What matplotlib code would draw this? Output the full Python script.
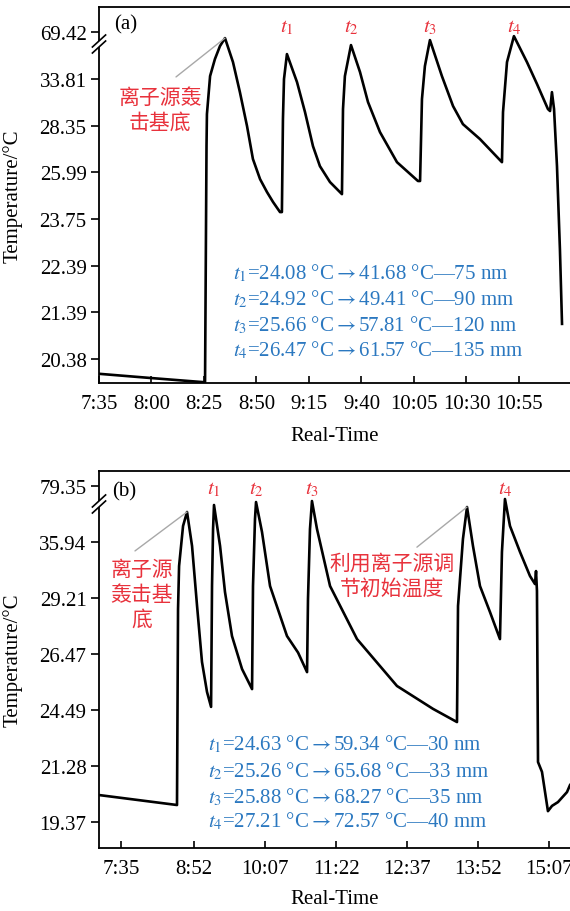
import numpy as np
import matplotlib
matplotlib.use("Agg")
import matplotlib.pyplot as plt
from matplotlib.transforms import blended_transform_factory

plt.rcParams['font.family'] = ['Liberation Serif', 'Noto Sans CJK SC', 'DejaVu Serif']
plt.rcParams['mathtext.fontset'] = 'stix'

# ---------------- data: panel (a) ----------------
a_yticks = [20.38, 21.39, 22.39, 23.75, 25.99, 28.35, 33.81, 69.42]
a_xlabels = ['7:35', '8:00', '8:25', '8:50', '9:15', '9:40', '10:05', '10:30', '10:55']
# time in minutes since midnight
a_time = [455.0, 479.3, 504.5, 505.5, 506.2, 506.4, 507.9, 510.2, 512.6, 515.0,
          518.8, 522.1, 525.5, 528.3, 531.7, 535.0, 537.9, 541.2,
          542.1, 542.6, 543.1, 544.5,
          549.3, 553.1, 556.9, 560.2, 565.0, 570.7,
          571.2, 572.1, 575.0,
          579.3, 583.1, 588.8, 596.9, 606.9,
          607.9, 608.8, 610.2, 612.6,
          618.3, 623.6, 628.3, 636.4, 646.9,
          647.4, 649.3, 652.6,
          658.8, 663.6, 668.8, 669.8, 670.7, 671.7,
          673.1, 674.5, 675.5]
a_temp = [20.06, 19.97, 19.88, 19.88, 27.31, 29.69, 35.95, 48.91, 58.81, 64.93,
          46.63, 32.26, 28.32, 26.66, 25.66, 25.04, 24.56, 24.08,
          24.08, 29.11, 33.79, 52.72,
          33.43, 29.93, 27.31, 26.30, 25.52, 24.94,
          30.28, 35.95, 59.59,
          39.01, 31.10, 28.02, 26.50, 25.57,
          25.57, 31.45, 43.57, 63.40,
          35.95, 30.63, 28.52, 27.67, 26.50,
          29.93, 46.63, 66.43,
          46.63, 33.20, 30.28, 30.05, 32.26, 30.28,
          26.30, 22.87, 21.14]
a_peaks = [544.5, 575.0, 612.6, 652.6]
a_info = [r"$t_1$=24.08 °C$\rightarrow$41.68 °C—75 nm",
          r"$t_2$=24.92 °C$\rightarrow$49.41 °C—90 mm",
          r"$t_3$=25.66 °C$\rightarrow$57.81 °C—120 nm",
          r"$t_4$=26.47 °C$\rightarrow$61.57 °C—135 mm"]
a_note = "离子源轰\n击基底"
a_note_peak = (515.0, 64.93)

# ---------------- data: panel (b) ----------------
b_yticks = [19.37, 21.28, 24.49, 26.47, 29.21, 35.94, 79.35]
b_xlabels = ['7:35', '8:52', '10:07', '11:22', '12:37', '13:52', '15:07']
b_time = [431.6, 514.0, 515.1, 516.2, 520.4, 524.6,
          529.9, 535.2, 540.4, 545.7, 550.0,
          551.0, 552.1, 553.1,
          559.5, 564.7, 572.1, 582.7, 593.3,
          594.3, 596.4, 597.5,
          603.8, 612.3, 630.2, 641.9, 651.4,
          652.4, 654.5, 656.6,
          661.9, 675.7, 704.2, 746.4, 784.5, 809.8,
          810.9, 816.1, 820.4,
          826.7, 834.1, 844.7, 855.2,
          857.3, 860.5,
          865.8, 876.4, 886.9, 892.2, 893.3, 894.3,
          895.4, 899.6, 905.9, 910.2, 916.5, 926.0, 929.2]
b_temp = [20.29, 19.95, 28.67, 33.05, 48.36, 59.21,
          35.46, 28.82, 26.19, 25.13, 24.60,
          30.65, 46.01, 64.63,
          35.46, 29.93, 27.35, 25.94, 25.23,
          30.65, 53.78, 66.93,
          43.71, 30.65, 27.35, 26.54, 25.83,
          29.16, 46.01, 67.71,
          46.01, 30.65, 27.20, 25.34, 24.53, 23.80,
          28.82, 38.28, 63.07,
          35.46, 30.65, 28.52, 27.20,
          34.74, 69.27,
          48.36, 34.74, 31.86, 30.89, 32.45, 30.05,
          21.51, 21.08, 19.74, 19.92, 20.05, 20.39, 20.63]
b_peaks = [553.1, 597.5, 656.6, 860.5]
b_info = [r"$t_1$=24.63 °C$\rightarrow$59.34 °C—30 nm",
          r"$t_2$=25.26 °C$\rightarrow$65.68 °C—33 mm",
          r"$t_3$=25.88 °C$\rightarrow$68.27 °C—35 nm",
          r"$t_4$=27.21 °C$\rightarrow$72.57 °C—40 mm"]
b_note1 = "离子源\n轰击基\n底"
b_note1_peak = (524.6, 59.21)
b_note2 = "利用离子源调\n节初始温度"
b_note2_peak = (820.4, 63.07)

RED = '#e8323c'
BLUE = '#2b78c0'
GREY = '#a8a8a8'


def make_scale(vals):
    vals = np.asarray(vals, float)
    idx = np.arange(len(vals), dtype=float)

    def fwd(v):
        v = np.asarray(v, float)
        out = np.interp(v, vals, idx)
        out = np.where(v < vals[0], (v - vals[0]) / (vals[1] - vals[0]), out)
        out = np.where(v > vals[-1], idx[-1] + (v - vals[-1]) / (vals[-1] - vals[-2]), out)
        return out

    def inv(k):
        k = np.asarray(k, float)
        out = np.interp(k, idx, vals)
        out = np.where(k < 0, vals[0] + k * (vals[1] - vals[0]), out)
        out = np.where(k > idx[-1], vals[-1] + (k - idx[-1]) * (vals[-1] - vals[-2]), out)
        return out
    return fwd, inv


def to_min(s):
    h, m = s.split(':')
    return int(h) * 60 + int(m)


def setup(ax, yticks, xlabels, xlim, klim, brk_y):
    fwd, inv = make_scale(yticks)
    ax.set_yscale('function', functions=(fwd, inv))
    ax.set_ylim(float(inv(klim[0])), float(inv(klim[1])))
    ax.set_yticks(yticks)
    ax.set_yticklabels([f"{v:.2f}" for v in yticks])
    ax.yaxis.set_minor_locator(matplotlib.ticker.NullLocator())
    ax.set_xlim(*xlim)
    ax.set_xticks([to_min(s) for s in xlabels])
    ax.set_xticklabels(xlabels)
    ax.tick_params(axis='x', direction='in', length=5, width=1.2, labelsize=15, pad=8)
    ax.tick_params(axis='y', direction='out', length=6, width=1.2, labelsize=15, pad=3)
    ax.spines['right'].set_visible(False)
    for s in ['left', 'bottom', 'top']:
        ax.spines[s].set_linewidth(1.3)
    ax.set_xlabel('Real-Time', fontsize=15)
    ax.set_ylabel('Temperature/°C', fontsize=15)
    ax.yaxis.set_label_coords(-0.163, 0.5)
    # axis break marks
    ax.add_patch(plt.Rectangle((-0.01, brk_y - 0.008), 0.02, 0.016, transform=ax.transAxes,
                               facecolor='white', edgecolor='none', clip_on=False, zorder=5))
    for dy in (-0.008, 0.008):
        ax.plot([-0.014, 0.014], [brk_y + dy - 0.016, brk_y + dy + 0.016], transform=ax.transAxes,
                color='black', lw=1.2, clip_on=False, zorder=6)


fig = plt.figure(figsize=(5.7, 9.12), dpi=100)
axa = fig.add_axes([99 / 570, 1 - 384 / 912, 471 / 570, 376 / 912])
axb = fig.add_axes([99 / 570, 1 - 849 / 912, 471 / 570, 377 / 912])

# ---- panel (a)
setup(axa, a_yticks, a_xlabels, (455.0, 679.3), (-0.514, 7.54), 0.9016)
axa.plot(a_time, a_temp, color='black', lw=1.9, solid_joinstyle='round')
axa.xaxis.set_label_coords(0.5, -0.115)
axa.text(0.056, 0.955, '(a)', transform=axa.transAxes, ha='center', va='center', fontsize=15)
tra = blended_transform_factory(axa.transData, axa.transAxes)
for i, px in enumerate(a_peaks):
    axa.text(px, 0.947, f"$t_{i+1}$", transform=tra, color=RED, ha='center', va='center', fontsize=15)
axa.annotate('', xy=a_note_peak, xycoords='data', xytext=(0.1635, 0.814), textcoords='axes fraction',
             arrowprops=dict(arrowstyle='-', color=GREY, lw=1.0, shrinkA=0, shrinkB=0))
axa.text(0.1295, 0.727, a_note, transform=axa.transAxes, ha='center', va='center', color=RED,
         fontsize=15, family=['Noto Sans CJK SC'], linespacing=1.15)
for txt, y in zip(a_info, [0.295, 0.224, 0.157, 0.090]):
    axa.text(0.2845, y, txt, transform=axa.transAxes, ha='left', va='center', color=BLUE, fontsize=15)

# ---- panel (b)
setup(axb, b_yticks, b_xlabels, (431.6, 929.2), (-0.464, 6.268), 0.9125)
axb.plot(b_time, b_temp, color='black', lw=1.9, solid_joinstyle='round')
axb.xaxis.set_label_coords(0.5, -0.108)
axb.text(0.053, 0.947, '(b)', transform=axb.transAxes, ha='center', va='center', fontsize=15)
trb = blended_transform_factory(axb.transData, axb.transAxes)
for i, px in enumerate(b_peaks):
    axb.text(px, 0.952, f"$t_{i+1}$", transform=trb, color=RED, ha='center', va='center', fontsize=15)
axb.annotate('', xy=b_note1_peak, xycoords='data', xytext=(0.0764, 0.788), textcoords='axes fraction',
             arrowprops=dict(arrowstyle='-', color=GREY, lw=1.0, shrinkA=0, shrinkB=0))
axb.annotate('', xy=b_note2_peak, xycoords='data', xytext=(0.675, 0.798), textcoords='axes fraction',
             arrowprops=dict(arrowstyle='-', color=GREY, lw=1.0, shrinkA=0, shrinkB=0))
axb.text(0.0913, 0.674, b_note1, transform=axb.transAxes, ha='center', va='center', color=RED,
         fontsize=15, family=['Noto Sans CJK SC'], linespacing=1.15)
axb.text(0.622, 0.723, b_note2, transform=axb.transAxes, ha='center', va='center', color=RED,
         fontsize=15, family=['Noto Sans CJK SC'], linespacing=1.15)
for txt, y in zip(b_info, [0.276, 0.207, 0.138, 0.072]):
    axb.text(0.2314, y, txt, transform=axb.transAxes, ha='left', va='center', color=BLUE, fontsize=15)

fig.savefig('out.png', dpi=100)
